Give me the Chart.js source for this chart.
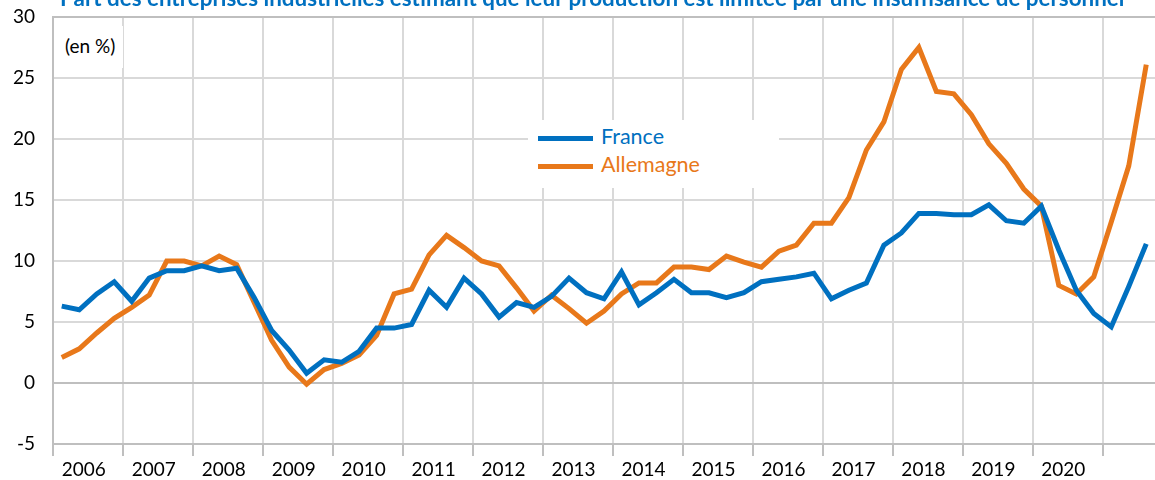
<!DOCTYPE html>
<html>
<head>
<meta charset="utf-8">
<script src="https://cdn.jsdelivr.net/npm/chart.js@4.4.1/dist/chart.umd.min.js"></script>
<style>
  body { margin: 0; background: #fff; font-family: Lato, "Open Sans", sans-serif; }
  #wrap { position: relative; width: 1155px; height: 480px; overflow: hidden; }
  #titre { position: absolute; left: 60px; top: -16px; white-space: nowrap;
           font-weight: bold; font-size: 22.4px; color: #0070c0; }
  #unite { position: absolute; left: 55px; top: 26px; width: 68px; height: 42px;
           background: #fff; font-size: 19px; color: #000; }
  #unite span { position: absolute; left: 10px; top: 8px; white-space: nowrap; }
  #legende { position: absolute; left: 528px; top: 120px; width: 251px; height: 68px;
             background: #fff; font-size: 21.5px; }
  .item { position: absolute; left: 10px; height: 26px; }
  .item i { position: absolute; left: 0; top: 11px; width: 55px; height: 5px; }
  .item b { position: absolute; left: 63px; top: -2px; font-weight: normal; white-space: nowrap; }
</style>
</head>
<body>
<div id="wrap">
  <canvas id="graphique"></canvas>
  <div id="titre">Part des entreprises industrielles estimant que leur production est limitée par une insuffisance de personnel</div>
  <div id="unite"><span>(en %)</span></div>
  <div id="legende"></div>
</div>
<script>
// Années et trimestres (2006T1 -> 2021T3)
const annees = ['2006', '2007', '2008', '2009', '2010', '2011', '2012', '2013',
    '2014', '2015', '2016', '2017', '2018', '2019', '2020', '2021'];
const trimestres = ['T1', 'T2', 'T3', 'T4'];
const nbPoints = 63;

// Années affichées sous l'axe
const etiquettesAnnees = ['2006', '2007', '2008', '2009', '2010', '2011', '2012', '2013',
    '2014', '2015', '2016', '2017', '2018', '2019', '2020'];

// Séries (en %)
const france = [
    6.3, 6.0, 7.3, 8.3, 6.7, 8.6, 9.2, 9.2, 9.6, 9.2, 9.4, 7.0,
    4.3, 2.7, 0.8, 1.9, 1.7, 2.6, 4.5, 4.5, 4.8, 7.6, 6.2, 8.6,
    7.3, 5.4, 6.6, 6.2, 7.1, 8.6, 7.4, 6.9, 9.1, 6.4, 7.4, 8.5,
    7.4, 7.4, 7.0, 7.4, 8.3, 8.5, 8.7, 9.0, 6.9, 7.6, 8.2, 11.3,
    12.3, 13.9, 13.9, 13.8, 13.8, 14.6, 13.3, 13.1, 14.5, 10.9, 7.6, 5.7,
    4.6, 7.9, 11.4
];
const allemagne = [
    2.1, 2.8, 4.1, 5.3, 6.2, 7.2, 10.0, 10.0, 9.6, 10.4, 9.7, 6.6,
    3.5, 1.3, -0.1, 1.1, 1.6, 2.3, 3.9, 7.3, 7.7, 10.5, 12.1, 11.1,
    10.0, 9.6, 7.8, 5.9, 7.2, 6.1, 4.9, 5.9, 7.3, 8.2, 8.2, 9.5,
    9.5, 9.3, 10.4, 9.9, 9.5, 10.8, 11.3, 13.1, 13.1, 15.2, 19.1, 21.4,
    25.7, 27.5, 23.9, 23.7, 22.0, 19.6, 18.0, 15.9, 14.5, 8.0, 7.3, 8.7,
    13.2, 17.8, 26.1
];

const series = [
    { nom: 'France', valeurs: france, couleur: '#0070c0' },
    { nom: 'Allemagne', valeurs: allemagne, couleur: '#e8781a' }
];

const labels = [];
annees.forEach(a => trimestres.forEach(t => labels.push(a + ' ' + t)));
labels.length = nbPoints;

// Légende HTML
const legende = document.getElementById('legende');
series.forEach((s, i) => {
    const d = document.createElement('div');
    d.className = 'item';
    d.style.top = (5 + i * 28) + 'px';
    d.innerHTML = '<i style="background:' + s.couleur + '"></i><b style="color:' + s.couleur + '">' + s.nom + '</b>';
    legende.appendChild(d);
});

const grisClair = '#d9d9d9';
const grisFonce = '#bfbfbf';

const ctx = document.getElementById('graphique').getContext('2d');
new Chart(ctx, {
    type: 'line',
    data: {
        labels: labels,
        datasets: series.map(s => ({
            label: s.nom,
            data: s.valeurs,
            borderColor: s.couleur,
            backgroundColor: s.couleur,
            borderWidth: 5,
            pointRadius: 0,
            tension: 0,
            fill: false
        }))
    },
    options: {
        responsive: true,
        maintainAspectRatio: false,
        animation: false,
        layout: { padding: { top: 17, right: 0, left: 0, bottom: 0 } },
        plugins: {
            legend: { display: false },
            tooltip: { enabled: false }
        },
        scales: {
            x: {
                type: 'category',
                offset: true,
                afterFit: s => {
                    s.height = 36;
                    s.paddingLeft = 0; s.paddingRight = 0;
                    s.paddingTop = 0; s.paddingBottom = 0;
                },
                grid: {
                    offset: true,
                    drawTicks: true,
                    tickLength: 12,
                    lineWidth: 2,
                    color: c => (c.index !== undefined && c.index % 4 === 0) ? grisClair : 'rgba(0,0,0,0)',
                    tickColor: c => (c.index !== undefined && c.index % 4 === 0) ? grisFonce : 'rgba(0,0,0,0)'
                },
                border: { color: grisFonce, width: 2 },
                ticks: {
                    autoSkip: false,
                    maxRotation: 0,
                    minRotation: 0,
                    align: 'start',
                    padding: 2,
                    color: '#000',
                    font: { family: 'Lato', size: 19 },
                    callback: (v, i) => (i % 4 === 0 && etiquettesAnnees[i / 4]) ? etiquettesAnnees[i / 4] : ''
                }
            },
            y: {
                min: -5,
                max: 30,
                afterFit: s => {
                    s.width = 53;
                    s.paddingTop = 0; s.paddingBottom = 0;
                },
                grid: {
                    drawTicks: false,
                    lineWidth: 2,
                    color: c => (c.tick && (c.tick.value === 0 || c.tick.value === 30)) ? grisFonce : grisClair
                },
                border: { color: grisFonce, width: 2 },
                ticks: {
                    stepSize: 5,
                    padding: 18,
                    color: '#000',
                    font: { family: 'Lato', size: 19 }
                }
            }
        }
    }
});
</script>
</body>
</html>
